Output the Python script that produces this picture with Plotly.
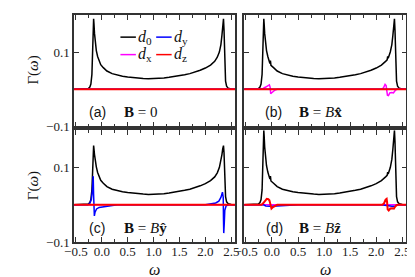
import plotly.graph_objects as go

# ---------------- data ----------------
omega = [-0.535, -0.30, -0.26, -0.23, -0.21, -0.19, -0.175, -0.165, -0.157, -0.15,
         -0.14, -0.125, -0.105, -0.08, -0.05, -0.04, -0.03, -0.02, 0.03, 0.1,
         0.2, 0.3, 0.4, 0.5, 0.6, 0.7, 0.8, 0.9, 1.0, 1.1,
         1.2, 1.3, 1.4, 1.5, 1.6, 1.7, 1.8, 1.9, 2.0, 2.1,
         2.18, 2.21, 2.22, 2.23, 2.27, 2.3, 2.32, 2.335, 2.35, 2.36,
         2.37, 2.38, 2.39, 2.41, 2.44, 2.5, 2.58]

d0_a = [0, 0, 0.002, 0.006, 0.014, 0.04, 0.09, 0.15, 0.189, 0.175,
        0.15, 0.122, 0.104, 0.088, 0.074, 0.071, 0.068, 0.066, 0.058, 0.049,
        0.042, 0.038, 0.035, 0.033, 0.031, 0.030, 0.029, 0.028, 0.028, 0.029,
        0.030, 0.032, 0.034, 0.036, 0.039, 0.042, 0.046, 0.051, 0.057, 0.065,
        0.075, 0.081, 0.083, 0.086, 0.100, 0.120, 0.145, 0.170, 0.189, 0.160,
        0.100, 0.050, 0.022, 0.008, 0.003, 0.001, 0]

d0_b = [0, 0, 0.002, 0.006, 0.014, 0.04, 0.09, 0.15, 0.189, 0.175,
        0.15, 0.122, 0.104, 0.088, 0.074, 0.069, 0.077, 0.064, 0.058, 0.049,
        0.042, 0.038, 0.035, 0.033, 0.031, 0.030, 0.029, 0.028, 0.028, 0.029,
        0.030, 0.032, 0.034, 0.036, 0.039, 0.042, 0.046, 0.051, 0.057, 0.065,
        0.075, 0.079, 0.088, 0.083, 0.100, 0.120, 0.145, 0.170, 0.189, 0.160,
        0.100, 0.050, 0.022, 0.008, 0.003, 0.001, 0]

d0_c = [0, 0, 0.002, 0.006, 0.014, 0.04, 0.085, 0.13, 0.159, 0.150,
        0.135, 0.118, 0.102, 0.087, 0.074, 0.071, 0.068, 0.066, 0.058, 0.049,
        0.042, 0.038, 0.035, 0.033, 0.031, 0.030, 0.029, 0.028, 0.028, 0.029,
        0.030, 0.032, 0.034, 0.036, 0.039, 0.042, 0.046, 0.051, 0.057, 0.065,
        0.075, 0.081, 0.083, 0.086, 0.100, 0.118, 0.135, 0.150, 0.159, 0.140,
        0.095, 0.050, 0.022, 0.008, 0.003, 0.001, 0]

d0_d = [0, 0, 0.002, 0.006, 0.014, 0.04, 0.095, 0.16, 0.200, 0.185,
        0.155, 0.124, 0.105, 0.088, 0.074, 0.069, 0.077, 0.064, 0.058, 0.049,
        0.042, 0.038, 0.035, 0.033, 0.031, 0.030, 0.029, 0.028, 0.028, 0.029,
        0.030, 0.032, 0.034, 0.036, 0.039, 0.042, 0.046, 0.051, 0.057, 0.065,
        0.075, 0.079, 0.088, 0.083, 0.100, 0.122, 0.150, 0.180, 0.200, 0.170,
        0.105, 0.050, 0.022, 0.008, 0.003, 0.001, 0]

flat_w = [-0.535, 2.58]
flat_v = [0, 0]

# d_x in panel (b)
dx_b_w = [-0.535, -0.19, -0.17, -0.12, -0.08, -0.05, -0.035, -0.025, -0.01, 0.02, 0.06, 0.1,
          2.10, 2.14, 2.17, 2.19, 2.205, 2.215, 2.235, 2.26, 2.30, 2.33, 2.35, 2.37, 2.40, 2.58]
dx_b_v = [0, 0, 0.002, 0.006, 0.010, 0.012, 0.005, -0.012, -0.010, -0.006, -0.002, 0,
          0, 0.004, 0.013, 0.010, 0, -0.016, -0.017, -0.010, -0.009, -0.010, -0.006, -0.002, 0, 0]

# d_y in panel (c)
dy_c_w = [-0.535, -0.27, -0.23, -0.20, -0.18, -0.165, -0.158, -0.15, -0.143, -0.13, -0.10, -0.05, 0.03, 0.15, 0.3,
          2.0, 2.1, 2.2, 2.26, 2.3, 2.33, 2.345, 2.35, 2.355, 2.365, 2.375, 2.40, 2.45, 2.58]
dy_c_v = [0, 0, 0.004, 0.015, 0.04, 0.077, 0.03, -0.025, -0.030, -0.020, -0.011, -0.007, -0.005, -0.002, 0,
          0, 0.002, 0.005, 0.010, 0.020, 0.034, 0.020, -0.040, -0.076, -0.050, -0.015, -0.003, 0, 0]

# d_y and d_z in panel (d)
dy_d_w = [-0.535, -0.16, -0.12, -0.05, 0.1, 0.3, 0.5, 2.1, 2.2, 2.3, 2.36, 2.4, 2.58]
dy_d_v = [0, 0, -0.003, -0.004, -0.003, -0.002, 0, 0, -0.003, -0.004, -0.004, 0, 0]

dz_d_w = [-0.535, -0.2, -0.17, -0.13, -0.10, -0.07, -0.05, -0.035, -0.025, -0.01, 0.02, 0.06, 0.1,
          2.12, 2.15, 2.18, 2.20, 2.21, 2.22, 2.24, 2.27, 2.31, 2.34, 2.36, 2.38, 2.41, 2.58]
dz_d_v = [0, 0, 0.004, 0.012, 0.016, 0.015, 0.012, 0.004, -0.009, -0.010, -0.006, -0.002, 0,
          0, 0.004, 0.014, 0.016, 0.005, -0.012, -0.015, -0.010, -0.009, -0.010, -0.006, -0.002, 0, 0]

x_ticks = [-0.5, 0.0, 0.5, 1.0, 1.5, 2.0, 2.5]
x_tick_text = ["\u22120.5", "0.0", "0.5", "1.0", "1.5", "2.0", "2.5"]
y_ticks = [-0.1, 0.1]
y_tick_text = ["\u22120.1", "0.1"]
x_range = [-0.535, 2.58]
y_range = [-0.1, 0.2]

panel_tags = ["(a)", "(b)", "(c)", "(d)"]
panel_fields = ["<b>B</b> = 0", "<b>B</b> = <i>B</i><b>x\u0302</b>",
                "<b>B</b> = <i>B</i><b>y\u0302</b>", "<b>B</b> = <i>B</i><b>z\u0302</b>"]

BLACK, MAG, BLUE, RED = "#000000", "#ff00ff", "#0000ff", "#ff0000"
SERIF = "Liberation Serif"
SANS = "Liberation Sans"

W, H = 415, 277
def px(x):
    return x / W
def py(y):
    return 1 - y / H

fig = go.Figure()

panels = [
    ("x", "y", d0_a, (flat_w, flat_v), (flat_w, flat_v), (flat_w, flat_v)),
    ("x2", "y2", d0_b, (dx_b_w, dx_b_v), (flat_w, flat_v), (flat_w, flat_v)),
    ("x3", "y3", d0_c, (flat_w, flat_v), (dy_c_w, dy_c_v), (flat_w, flat_v)),
    ("x4", "y4", d0_d, (flat_w, flat_v), (dy_d_w, dy_d_v), (dz_d_w, dz_d_v)),
]
for xa, ya, d0, dx, dy, dz in panels:
    fig.add_trace(go.Scatter(x=omega, y=d0, mode="lines", line=dict(color=BLACK, width=1.5),
                             xaxis=xa, yaxis=ya, showlegend=False))
    fig.add_trace(go.Scatter(x=dx[0], y=dx[1], mode="lines", line=dict(color=MAG, width=1.5),
                             xaxis=xa, yaxis=ya, showlegend=False))
    fig.add_trace(go.Scatter(x=dy[0], y=dy[1], mode="lines", line=dict(color=BLUE, width=1.5),
                             xaxis=xa, yaxis=ya, showlegend=False))
    fig.add_trace(go.Scatter(x=dz[0], y=dz[1], mode="lines", line=dict(color=RED, width=2),
                             xaxis=xa, yaxis=ya, showlegend=False))

x_dom = {"L": [px(58), px(225)], "R": [px(234), px(402)]}
y_dom = {"T": [py(122), py(7)], "B": [py(241), py(126)]}
FRAME = "#333333"

def xaxis(dom, anchor, labels):
    return dict(domain=dom, anchor=anchor, range=x_range, showgrid=False, zeroline=False,
                showline=True, linecolor=FRAME, linewidth=1.5, mirror="allticks",
                ticks="inside", ticklen=5, tickwidth=1, tickcolor=FRAME,
                tickvals=x_ticks, ticktext=x_tick_text, showticklabels=labels,
                ticklabelstandoff=-3,
                tickfont=dict(family=SERIF, size=13, color="#222"),
                minor=dict(ticks="inside", dtick=0.25, tick0=0, ticklen=3, tickwidth=1, tickcolor=FRAME))

def yaxis(dom, anchor, labels):
    return dict(domain=dom, anchor=anchor, range=y_range, showgrid=False, zeroline=False,
                showline=True, linecolor=FRAME, linewidth=1.5, mirror="allticks",
                ticks="inside", ticklen=5, tickwidth=1, tickcolor=FRAME,
                tickvals=y_ticks, ticktext=y_tick_text, showticklabels=labels,
                tickfont=dict(family=SERIF, size=13, color="#222"))

fig.update_layout(
    width=W, height=H, margin=dict(l=0, r=0, t=0, b=0),
    paper_bgcolor="white", plot_bgcolor="white", showlegend=False,
    xaxis=xaxis(x_dom["L"], "y", False), yaxis=yaxis(y_dom["T"], "x", True),
    xaxis2=xaxis(x_dom["R"], "y2", False), yaxis2=yaxis(y_dom["T"], "x2", False),
    xaxis3=xaxis(x_dom["L"], "y3", True), yaxis3=yaxis(y_dom["B"], "x3", True),
    xaxis4=xaxis(x_dom["R"], "y4", True), yaxis4=yaxis(y_dom["B"], "x4", False),
)

ann = []
tag_pos = [(71, 107), (254, 107), (71, 227), (255, 227)]
field_pos = [(108, 107), (289, 107), (108, 227), (289, 227)]
for tag, field, (tx, ty), (fx, fy) in zip(panel_tags, panel_fields, tag_pos, field_pos):
    ann.append(dict(x=px(tx), y=py(ty), xref="paper", yref="paper", text=tag, showarrow=False,
                    xanchor="left", yanchor="middle", font=dict(family=SANS, size=14, color="#111")))
    ann.append(dict(x=px(fx), y=py(fy), xref="paper", yref="paper", text=field, showarrow=False,
                    xanchor="left", yanchor="middle", font=dict(family=SERIF, size=15, color="#111")))

for yc in (64, 183):
    ann.append(dict(x=px(16), y=py(yc), xref="paper", yref="paper", text="\u0393(<i>\u03c9</i>)",
                    showarrow=False, textangle=-90, xanchor="center", yanchor="middle",
                    font=dict(family=SERIF, size=15, color="#111")))
for xc in (141, 318):
    ann.append(dict(x=px(xc), y=py(269), xref="paper", yref="paper", text="<i>\u03c9</i>",
                    showarrow=False, xanchor="center", yanchor="middle",
                    font=dict(family=SERIF, size=16, color="#111")))

# legend (in panel a)
legend_items = [("<i>d</i><sub>0</sub>", BLACK, 106, 30), ("<i>d</i><sub>y</sub>", BLUE, 143, 30),
                ("<i>d</i><sub>x</sub>", MAG, 106, 48), ("<i>d</i><sub>z</sub>", RED, 143, 48)]
shapes = []
for label, col, lx, ly in legend_items:
    shapes.append(dict(type="line", xref="paper", yref="paper", x0=px(lx), x1=px(lx + 16),
                       y0=py(ly), y1=py(ly), line=dict(color=col, width=1.5)))
    ann.append(dict(x=px(lx + 16), y=py(ly), xref="paper", yref="paper", text=label, showarrow=False,
                    xanchor="left", yanchor="middle", font=dict(family=SERIF, size=16, color="#111")))

fig.update_layout(annotations=ann, shapes=shapes)
fig.write_html("out.html")
